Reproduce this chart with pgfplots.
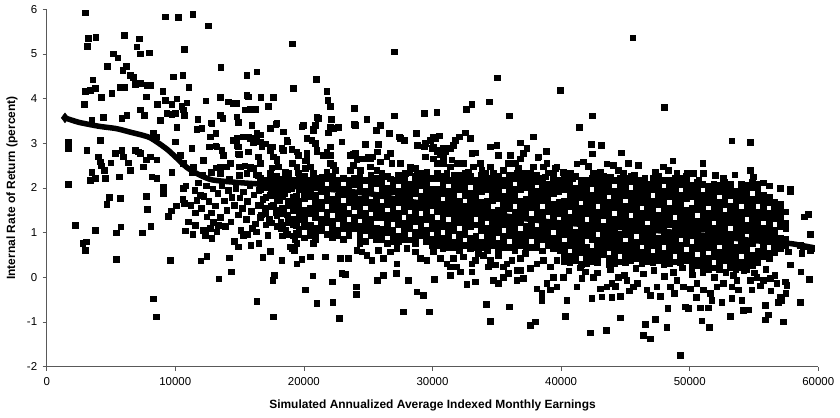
\documentclass[border=0pt]{standalone}
\usepackage{pgfplots}
\pgfplotsset{compat=1.18}
\usepackage{pgfplotstable}
\usepackage{fontspec}
\setmainfont{Liberation Sans}

\pgfplotstableread{
x y
2980 5.92
3240 5.35
3810 5.37
3130 5.18
6040 5.42
7200 5.34
7000 5.16
7260 5.01
7980 5.03
5180 5.01
5520 4.92
9200 5.83
10230 5.82
11350 5.89
12570 5.63
10700 5.11
19100 5.23
13530 4.71
4710 4.73
6170 4.73
5910 4.64
6480 4.53
6740 4.48
7260 4.34
6870 4.33
7780 4.30
8030 4.30
9850 4.49
10580 4.53
11040 4.25
15550 4.53
16330 4.60
19180 4.23
3580 4.42
2980 4.17
3370 4.19
3760 4.23
5700 4.25
6010 4.25
5050 4.12
4220 4.03
2920 3.88
7720 4.04
9020 4.16
9200 3.97
9720 3.88
10110 4.00
10500 3.83
10890 3.91
8600 3.87
7260 3.75
7570 3.63
5830 3.56
6220 3.63
4400 3.58
3500 3.52
8810 3.52
9330 3.67
9720 3.65
9980 3.67
10630 3.75
10680 3.63
12360 3.95
13480 4.03
14120 3.93
14510 3.90
14770 3.90
15550 4.08
15680 4.04
16640 4.03
17620 4.03
17230 3.83
15420 3.75
15810 3.76
16200 3.76
13480 3.63
13680 3.56
11740 3.54
12780 3.46
10110 3.35
12050 3.34
12700 3.15
13140 3.22
14770 3.60
14900 3.48
15940 3.39
17360 3.34
17800 3.43
18400 3.26
18660 3.07
18710 3.04
16640 3.19
16330 3.15
14770 3.11
15290 3.15
15680 3.15
14770 2.96
16070 3.01
16590 3.04
16720 2.92
17540 2.92
18270 2.89
18400 2.85
8290 3.24
8500 3.15
10000 3.04
11280 2.89
12620 2.92
13140 2.95
13610 2.85
13730 2.74
14900 2.92
14950 2.76
15680 2.81
16450 2.70
17620 2.70
17880 2.64
1680 3.04
1680 2.89
3110 2.85
4150 3.07
4010 2.70
4150 2.59
4220 2.50
4980 2.57
5310 2.78
5830 2.85
5960 2.70
6350 2.57
6870 2.85
7130 2.81
7260 2.78
6530 2.40
7520 2.48
7720 2.63
8030 2.70
8550 2.63
3500 2.36
3370 2.18
3760 2.22
4480 2.40
4530 2.22
1660 2.09
5620 2.25
6480 2.40
8160 2.25
8550 2.22
9720 2.36
9070 2.03
10370 2.74
10630 2.55
14980 2.48
14980 2.29
15550 2.33
16070 2.44
16450 2.29
17360 2.33
18010 2.48
18530 2.36
18790 2.33
12780 2.36
13480 2.33
14000 2.48
10100 3.37
11660 3.31
12830 3.45
14900 3.46
15940 3.41
17880 3.45
19960 3.41
20730 3.33
22030 3.37
23970 3.41
25920 3.41
28770 3.22
30070 3.15
12700 3.15
13220 2.92
14510 3.07
14900 2.77
15810 3.11
16330 3.22
16970 2.99
17360 2.85
18660 3.07
19440 2.81
20220 3.11
21000 2.85
21770 2.77
23840 2.77
24490 2.66
25140 2.66
26700 2.77
27470 3.11
29420 2.70
30450 2.85
10370 2.74
11400 2.48
12180 2.62
13480 2.48
14250 2.55
15030 2.48
15810 2.48
16590 2.55
17880 2.62
18660 2.33
19440 2.48
20220 2.62
20730 2.33
22030 2.55
23070 2.21
23580 2.40
24620 2.18
25660 2.40
26700 2.21
28250 2.48
29550 2.36
30840 2.55
2200 1.17
3760 1.06
4670 1.64
4870 1.80
5700 1.77
5390 1.00
5750 1.13
2800 0.77
3060 0.80
2980 0.61
5390 0.41
7720 1.82
7830 1.52
7440 1.00
8090 1.15
9070 1.89
9460 1.37
9670 1.49
10050 1.60
10580 1.75
10630 1.99
10680 1.66
9610 0.39
8290 -0.48
8500 -0.88
10780 1.04
11350 0.97
11530 1.17
11560 1.45
11670 1.73
11920 1.84
12180 1.06
12310 0.95
12830 0.87
12440 1.36
12960 1.24
13220 1.02
13350 1.17
11980 0.37
12440 0.48
13370 -0.03
14330 0.13
14200 0.44
14570 0.81
14880 0.69
15290 0.95
15600 0.97
15860 0.72
16280 1.02
16490 0.76
16800 0.45
17370 0.59
16330 -0.53
17700 0.05
17580 -0.06
17620 -0.88
18280 0.39
19050 0.65
19230 0.61
18200 1.10
19390 1.17
19390 1.00
10800 2.05
11200 1.62
11500 1.95
11800 2.12
12000 1.55
12200 1.82
12400 2.05
12600 1.70
12800 1.45
12900 1.98
13100 1.60
13300 1.88
13500 1.35
13600 2.05
13800 1.72
14000 1.50
14100 1.95
14300 1.25
14400 1.80
14600 1.62
14700 2.00
14900 1.40
15000 1.78
15200 1.55
15300 1.92
15500 1.30
15600 1.70
15800 2.05
15900 1.48
16100 1.85
16200 1.20
16400 1.62
16500 1.95
16700 1.40
16800 1.75
17000 1.55
17100 2.02
17300 1.30
17400 1.85
17600 1.62
17800 1.45
17900 1.95
18100 1.72
18200 1.25
18400 1.55
18500 1.88
18700 1.40
18900 1.70
19000 2.00
19200 1.50
19400 1.82
19500 1.30
11000 1.25
12700 1.10
13900 1.15
15100 1.05
16000 1.10
17200 0.95
18600 1.05
19300 0.85
11300 2.35
12100 2.30
13200 2.45
14200 2.20
15400 2.50
16300 2.30
17500 2.45
18300 2.20
19100 2.55
27030 5.05
20940 4.43
21770 4.16
21850 3.97
22030 3.83
23900 3.79
27030 3.62
29360 3.67
30330 3.70
32600 3.76
33050 3.88
34390 3.93
35040 4.47
35950 3.62
39910 4.19
37840 3.15
38830 2.83
21000 3.58
21120 3.56
20860 3.41
19950 3.41
19830 3.37
20730 3.30
22100 3.54
22290 3.34
22680 3.36
21900 3.24
23920 3.43
24880 3.54
25920 3.41
25610 3.30
26640 3.22
27420 3.15
27810 3.07
28690 3.22
28820 2.96
30200 3.11
30530 3.17
30060 2.92
29940 2.89
31750 3.07
32080 3.15
32530 3.24
32920 3.11
31620 2.96
31360 2.89
30970 2.81
30580 2.76
30840 2.70
34470 2.92
34990 2.96
35120 2.74
33050 2.78
33300 2.79
36030 2.74
36800 3.01
37320 2.89
37060 2.78
38180 2.69
38880 2.55
39660 2.48
36420 2.55
36800 2.66
36670 2.44
37060 2.33
37580 2.33
38100 2.22
19050 2.87
19570 2.74
20220 2.78
20600 3.07
20860 3.00
21000 2.81
21500 2.74
21770 2.81
22030 2.92
22030 2.74
20090 2.61
20090 2.44
20470 2.48
19570 2.34
19310 2.18
19950 2.14
21000 2.22
21380 2.25
21770 2.36
22290 2.51
22420 2.40
22940 3.04
23580 2.74
23970 2.78
23840 2.51
24100 2.63
24750 2.98
24360 2.40
24750 2.66
25000 2.70
25140 2.48
25350 2.70
25710 2.81
25790 2.98
25920 2.59
26440 2.70
26700 2.78
26830 2.55
27470 2.55
27860 2.33
29360 2.92
29420 3.00
29810 3.07
28640 2.44
28770 2.33
29290 2.33
29420 2.70
30060 2.66
30330 2.55
30330 2.81
30710 2.81
30840 2.89
31100 2.33
31360 2.48
31490 2.63
31880 2.55
32000 2.29
32400 2.55
32790 2.36
33170 2.48
33690 2.55
33820 2.40
34080 2.33
34470 2.48
34730 2.33
35510 2.40
35900 2.55
36030 2.29
36550 2.33
37840 2.48
38230 2.70
38620 2.48
38750 2.25
39400 2.33
39530 2.18
38230 2.14
37060 2.18
19440 0.31
19830 0.40
20680 0.04
20090 -0.28
21000 -0.58
22240 -0.55
22750 -0.92
22210 -0.10
22940 0.09
23200 0.07
24050 -0.21
24050 -0.38
25710 -0.06
26180 0.05
27160 0.09
28120 -0.06
27730 -0.77
28770 -0.32
29290 -0.40
29730 -0.77
30120 -0.04
31360 0.05
32140 0.13
32660 -0.15
33300 -0.10
33050 0.13
34160 -0.60
34470 -0.98
35970 -0.66
34730 -0.06
35120 -0.13
35510 0.01
35900 0.09
36550 -0.06
37060 -0.02
36800 0.16
37580 -1.07
37970 -0.99
38100 -0.25
38490 -0.36
38880 -0.13
38490 -0.51
39140 -0.28
39660 -0.21
39400 0.01
18920 0.69
19440 0.76
20730 0.76
20470 0.46
21640 0.46
22810 0.43
23450 0.43
24100 0.61
24500 0.57
24880 0.50
25270 0.39
25790 0.61
26180 0.43
26700 0.57
27220 0.31
27220 0.65
27990 0.65
28640 0.57
29030 0.43
29550 0.39
30060 0.57
30580 0.43
31100 0.31
31360 0.24
31620 0.43
31880 0.24
32400 0.46
33050 0.31
33300 0.39
33560 0.54
33950 0.50
34340 0.24
34470 0.39
34860 0.28
35120 0.50
35510 0.24
35770 0.31
36160 0.39
36550 0.16
36800 0.43
37190 0.54
37580 0.20
38100 0.31
38620 0.39
39140 0.24
39660 0.39
39910 0.61
45570 5.36
48000 3.81
42430 3.62
41390 3.36
53270 3.06
54690 3.02
42330 2.98
43100 2.96
42400 2.77
44660 2.79
45230 2.55
46000 2.51
48680 2.61
51010 2.55
41210 2.54
41730 2.59
42120 2.49
43550 2.54
44060 2.51
39530 2.44
40170 2.36
40690 2.33
42500 2.33
43030 2.36
43800 2.25
44450 2.40
44840 2.33
47950 2.48
48340 2.40
48990 2.33
49770 2.33
50280 2.33
51060 2.33
51970 2.29
54690 2.40
54950 2.25
55730 2.12
55210 2.10
57020 1.99
57800 1.97
57800 1.93
57020 1.52
59220 1.42
58890 1.36
59350 0.97
58580 0.72
58830 0.69
59350 0.61
58710 0.54
59490 0.65
57670 0.57
57800 0.28
58630 0.13
59280 -0.04
58580 -0.55
57410 -0.10
57540 -0.17
57460 -0.36
57100 -0.51
57020 -0.43
57280 -0.99
56110 -0.84
55850 -0.95
55850 -0.62
54550 -0.72
54170 -0.73
53130 -0.87
51520 -1.11
50930 -0.97
48210 -1.11
49250 -1.74
46910 -1.37
46390 -1.29
46520 -1.05
47300 -0.94
44580 -0.90
43490 -1.18
42250 -1.24
40300 -0.87
40430 -0.51
42380 -0.47
43160 -0.43
43930 -0.45
44580 -0.42
46910 -0.40
47690 -0.42
48290 -0.69
49630 -0.66
49890 -0.69
50800 -0.68
51450 -0.68
51710 -0.51
53270 -0.47
54040 -0.51
53780 -0.28
54820 -0.28
55470 -0.19
56890 -0.55
41210 -0.21
40170 0.01
41600 -0.02
41860 0.13
42500 0.01
43030 -0.25
43550 -0.21
43930 -0.13
44450 0.01
45100 -0.06
45610 -0.21
45930 -0.13
46650 -0.28
47430 -0.21
48470 -0.21
48990 -0.06
49500 -0.21
50020 -0.25
50540 -0.13
51060 -0.28
51580 -0.36
52100 -0.21
52610 -0.13
53270 -0.21
53650 -0.06
54690 -0.06
55210 0.01
55730 -0.06
56240 -0.02
56760 -0.13
40600 0.15
41500 0.22
42800 0.10
43800 0.18
44900 0.05
45800 0.20
46400 0.08
47200 0.16
48000 0.02
48700 0.12
49400 0.22
50200 0.06
51000 0.10
51900 0.00
52800 0.12
53400 0.05
54200 0.15
55000 0.10
55900 0.18
56600 0.05
45300 -0.30
50500 -0.45
52500 -0.55
48800 -0.35
44200 -0.20
56300 -0.30
40900 2.22
45700 2.28
46500 2.22
47300 2.35
49300 2.20
50700 2.18
52600 2.22
53500 2.30
56200 2.05
}\sparse

\pgfplotstableread{
x a b c d e f g h i j k l m n o p
16600 2.22 nan 1.97 nan nan 1.60 nan 1.35 nan nan nan nan nan nan nan nan
17030 2.18 2.05 nan 1.80 nan nan 1.43 nan 1.18 nan nan nan nan nan nan nan
17460 2.22 nan 1.97 1.84 nan 1.59 nan nan 1.22 nan nan nan nan nan nan nan
17890 2.26 2.14 nan 1.89 1.76 nan 1.51 1.39 nan 1.14 nan nan nan nan nan nan
18320 2.18 nan 1.93 1.81 nan 1.56 1.43 nan 1.18 nan 0.93 nan nan nan nan nan
18750 2.22 2.10 1.97 nan 1.72 1.60 nan 1.35 1.22 nan 0.97 nan nan nan nan nan
19180 2.18 2.05 nan 1.80 1.68 1.55 nan 1.30 1.18 nan 0.93 nan nan nan nan nan
19610 2.22 2.09 1.97 nan 1.72 1.59 1.47 1.34 nan 1.09 0.97 nan nan nan nan nan
20040 2.26 nan 2.01 1.89 1.76 nan 1.51 1.39 1.26 1.14 nan 0.89 nan nan nan nan
20470 2.18 2.06 1.93 1.81 nan 1.56 1.43 nan 1.18 1.06 0.93 nan nan nan nan nan
20900 2.22 2.10 nan 1.85 1.72 1.60 1.47 1.35 nan 1.10 0.97 0.85 nan nan nan nan
21330 2.18 2.05 1.93 nan 1.68 1.55 nan 1.30 1.18 1.05 nan nan nan nan nan nan
21760 2.22 nan 1.97 1.84 1.72 nan 1.47 1.34 1.22 nan 0.97 nan nan nan nan nan
22190 2.26 2.14 2.01 nan 1.76 1.64 1.51 nan 1.26 1.14 1.01 0.89 nan nan nan nan
22620 2.18 2.06 nan 1.81 1.68 1.56 1.43 1.31 nan 1.06 0.93 nan nan nan nan nan
23050 2.22 nan 1.97 1.85 nan 1.60 1.47 1.35 1.22 1.10 nan 0.85 nan nan nan nan
23480 2.18 2.05 1.93 1.80 1.68 nan 1.43 nan 1.18 1.05 0.93 nan nan nan nan nan
23910 2.22 2.09 nan 1.84 1.72 1.59 nan 1.34 1.22 1.09 nan nan nan nan nan nan
24340 2.26 2.14 2.01 nan 1.76 1.64 1.51 1.39 nan 1.14 1.01 0.89 0.76 nan nan nan
24770 2.18 nan 1.93 1.81 1.68 nan 1.43 1.31 1.18 1.06 nan 0.81 nan nan nan nan
25200 2.30 2.18 2.05 1.93 nan 1.68 1.55 nan 1.30 1.18 1.05 0.93 nan nan nan nan
25630 2.22 2.10 nan 1.85 1.72 1.60 1.47 1.35 nan 1.10 0.97 0.85 nan nan nan nan
26060 2.34 2.22 2.09 1.97 1.84 nan 1.59 1.47 1.34 nan 1.09 0.97 0.84 nan nan nan
26490 2.26 nan 2.01 1.89 1.76 1.64 nan 1.39 1.26 1.14 1.01 nan 0.76 nan nan nan
26920 2.18 2.06 1.93 nan 1.68 1.56 1.43 1.31 nan 1.06 0.93 0.81 nan nan nan nan
27350 2.30 2.18 nan 1.93 1.80 1.68 nan 1.43 1.30 1.18 nan 0.93 0.80 nan nan nan
27780 2.22 2.10 1.97 1.85 nan 1.60 1.47 nan 1.22 1.10 0.97 0.85 nan nan nan nan
28210 2.34 nan 2.09 1.97 1.84 1.72 1.59 nan 1.34 1.22 1.09 nan 0.84 nan nan nan
28640 2.26 2.14 2.01 1.89 nan 1.64 1.51 1.39 1.26 nan 1.01 0.89 0.76 nan nan nan
29070 2.18 2.06 nan 1.81 1.68 1.56 nan 1.31 1.18 1.06 0.93 nan nan nan nan nan
29500 2.30 2.18 2.05 1.93 1.80 nan 1.55 1.43 1.30 nan 1.05 0.93 0.80 nan nan nan
29930 2.22 nan 1.97 1.85 1.72 1.60 nan 1.35 1.22 1.10 nan 0.85 0.72 nan nan nan
30360 2.34 2.22 nan 1.97 1.84 1.72 1.59 1.47 nan 1.22 1.09 0.97 0.84 0.72 nan nan
30790 2.26 2.14 2.01 1.89 nan 1.64 1.51 1.39 1.26 1.14 nan 0.89 0.76 0.64 nan nan
31220 2.18 nan 1.93 1.81 1.68 1.56 1.43 nan 1.18 1.06 0.93 0.81 0.68 nan nan nan
31650 2.30 2.18 2.05 1.93 1.80 1.68 nan 1.43 1.30 1.18 1.05 nan 0.80 0.68 nan nan
32080 2.22 2.10 1.97 nan 1.72 1.60 1.47 1.35 1.22 nan 0.97 0.85 0.72 0.60 nan nan
32510 2.34 2.22 2.09 1.97 1.84 nan 1.59 1.47 1.34 1.22 1.09 0.97 nan 0.72 nan nan
32940 2.26 2.14 nan 1.89 1.76 1.64 1.51 1.39 1.26 1.14 nan 0.89 0.76 0.64 nan nan
33370 2.18 2.06 1.93 1.81 1.68 1.56 1.43 nan 1.18 nan 0.93 0.81 0.68 nan nan nan
33800 2.30 2.18 2.05 1.93 nan 1.68 1.55 1.43 1.30 1.18 1.05 nan 0.80 0.68 nan nan
34230 2.22 2.10 1.97 nan 1.72 1.60 1.47 1.35 nan 1.10 0.97 0.85 0.72 0.60 nan nan
34660 nan 2.22 2.09 1.97 1.84 1.72 nan 1.47 1.34 1.22 1.09 0.97 0.84 0.72 nan nan
35090 2.26 2.14 2.01 1.89 1.76 nan 1.51 1.39 1.26 1.14 1.01 nan 0.76 0.64 nan nan
35520 2.18 2.06 nan 1.81 1.68 1.56 1.43 1.31 1.18 nan 0.93 0.81 0.68 nan nan nan
35950 2.30 2.18 2.05 1.93 1.80 1.68 1.55 nan 1.30 1.18 1.05 0.93 nan 0.68 nan nan
36380 2.22 nan 1.97 1.85 1.72 nan 1.47 1.35 1.22 1.10 0.97 0.85 0.72 0.60 nan nan
36810 2.34 2.22 2.09 1.97 nan 1.72 1.59 1.47 1.34 1.22 nan 0.97 0.84 0.72 nan nan
37240 2.26 2.14 2.01 nan 1.76 1.64 1.51 1.39 nan 1.14 1.01 0.89 0.76 0.64 nan nan
37670 2.18 2.06 1.93 1.81 1.68 1.56 nan 1.31 1.18 1.06 0.93 nan 0.68 nan nan nan
38100 2.30 2.18 nan 1.93 1.80 1.68 1.55 1.43 1.30 nan 1.05 0.93 0.80 0.68 nan nan
38530 2.22 2.10 1.97 1.85 1.72 nan 1.47 1.35 1.22 1.10 0.97 0.85 nan 0.60 nan nan
38960 2.34 nan 2.09 1.97 1.84 1.72 1.59 1.47 nan 1.22 1.09 0.97 0.84 0.72 nan nan
39390 2.26 2.14 2.01 1.89 nan 1.64 1.51 1.39 1.26 1.14 nan 0.89 0.76 0.64 nan nan
39820 2.18 2.06 1.93 nan 1.68 1.56 1.43 nan 1.18 1.06 0.93 0.81 0.68 nan nan nan
40250 2.22 2.10 1.97 nan 1.72 1.60 1.47 1.35 1.22 1.10 0.97 nan 0.72 0.60 0.47 0.35
40680 2.22 2.09 1.97 1.84 1.72 1.59 nan 1.34 1.22 1.09 0.97 0.84 0.72 nan 0.47 0.34
41110 2.26 nan 2.01 1.89 1.76 1.64 1.51 1.39 1.26 nan 1.01 0.89 0.76 0.64 0.51 0.39
41540 2.18 2.05 1.93 1.80 nan 1.55 1.43 1.30 1.18 1.05 0.93 0.80 0.68 0.55 nan 0.30
41970 2.18 2.06 1.93 1.81 1.68 1.56 1.43 nan 1.18 1.06 0.93 nan 0.68 0.56 0.43 0.31
42400 2.22 2.10 nan 1.85 1.72 1.60 1.47 1.35 1.22 1.10 0.97 0.85 nan 0.60 0.47 0.35
42830 2.22 2.09 1.97 1.84 1.72 nan 1.47 1.34 1.22 1.09 nan 0.84 0.72 0.59 0.47 0.34
43260 2.26 2.14 2.01 1.89 1.76 1.64 1.51 1.39 nan 1.14 1.01 0.89 0.76 0.64 0.51 nan
43690 2.18 2.05 1.93 nan 1.68 1.55 1.43 1.30 1.18 1.05 0.93 0.80 0.68 nan 0.43 0.30
44120 2.18 nan 1.93 1.81 1.68 1.56 nan 1.31 1.18 1.06 0.93 0.81 0.68 0.56 0.43 0.31
44550 2.22 2.10 1.97 1.85 1.72 1.60 1.47 1.35 1.22 nan 0.97 0.85 0.72 0.60 nan 0.35
44980 2.22 2.09 1.97 1.84 nan 1.59 1.47 1.34 1.22 1.09 0.97 nan 0.72 0.59 0.47 0.34
45410 2.26 2.14 nan 1.89 1.76 1.64 1.51 nan 1.26 1.14 1.01 0.89 0.76 0.64 0.51 0.39
45840 2.18 2.05 1.93 1.80 1.68 1.55 1.43 1.30 1.18 1.05 nan 0.80 0.68 0.55 0.43 nan
46270 2.18 2.06 1.93 1.81 1.68 nan 1.43 1.31 1.18 1.06 0.93 0.81 nan 0.56 0.43 0.31
46700 nan 2.10 1.97 1.85 1.72 1.60 1.47 1.35 nan 1.10 0.97 0.85 0.72 0.60 0.47 0.35
47130 2.22 2.09 1.97 nan 1.72 1.59 1.47 1.34 1.22 1.09 0.97 0.84 0.72 nan 0.47 0.34
47560 2.26 2.14 2.01 1.89 1.76 1.64 nan 1.39 1.26 1.14 nan 0.89 0.76 0.64 0.51 0.39
47990 2.18 nan 1.93 1.80 1.68 1.55 1.43 1.30 1.18 1.05 0.93 0.80 nan 0.55 0.43 0.30
48420 2.18 2.06 1.93 1.81 nan 1.56 1.43 1.31 1.18 nan 0.93 0.81 0.68 0.56 0.43 0.31
48850 2.22 2.10 1.97 1.85 1.72 1.60 1.47 nan 1.22 1.10 0.97 0.85 0.72 0.60 nan 0.35
49280 2.22 2.09 nan 1.84 1.72 1.59 1.47 1.34 1.22 1.09 0.97 nan 0.72 0.59 0.47 0.34
49710 2.26 2.14 2.01 1.89 1.76 nan 1.51 1.39 1.26 1.14 1.01 0.89 0.76 nan 0.51 0.39
50140 2.06 1.93 1.81 nan 1.56 1.43 1.31 1.18 1.06 0.93 nan 0.68 0.56 0.43 0.31 0.18
50570 2.14 2.01 1.89 1.76 1.64 1.51 nan 1.26 1.14 1.01 0.89 0.76 0.64 nan 0.39 0.26
51000 2.09 nan 1.84 1.72 1.59 1.47 1.34 1.22 1.09 nan 0.84 0.72 0.59 0.47 0.34 0.22
51430 2.05 1.93 1.80 1.68 nan 1.43 1.30 1.18 1.05 0.93 0.80 0.68 nan 0.43 0.30 0.18
51860 2.10 1.97 1.85 1.72 1.60 1.47 1.35 nan 1.10 0.97 0.85 0.72 0.60 0.47 nan 0.22
52290 2.06 1.93 nan 1.68 1.56 1.43 1.31 1.18 1.06 0.93 0.81 nan 0.56 0.43 0.31 0.18
52720 2.14 2.01 1.89 1.76 1.64 nan 1.39 1.26 1.14 1.01 0.89 0.76 0.64 0.51 0.39 nan
53150 2.09 1.97 1.84 nan 1.59 1.47 1.34 1.22 nan 0.97 0.84 0.72 0.59 0.47 0.34 0.22
53580 nan 1.93 1.80 1.68 1.55 1.43 1.30 1.18 1.05 0.93 nan 0.68 0.55 0.43 0.30 0.18
54010 2.10 1.97 1.85 1.72 nan 1.47 1.35 1.22 1.10 0.97 0.85 0.72 0.60 nan 0.35 0.22
54440 2.06 1.93 1.81 1.68 1.56 1.43 nan 1.18 1.06 nan 0.81 0.68 0.56 0.43 0.31 0.18
54870 2.14 2.01 nan 1.76 1.64 1.51 1.39 1.26 1.14 1.01 0.89 0.76 nan 0.51 0.39 0.26
55300 1.97 1.84 1.72 nan 1.47 1.34 1.22 1.09 0.97 0.84 nan 0.59 0.47 0.34 nan nan
55730 1.85 1.72 1.60 1.47 1.35 nan 1.10 0.97 0.85 0.72 0.60 0.47 nan nan nan nan
56160 1.80 1.68 nan 1.43 1.30 1.18 1.05 0.93 0.80 nan 0.55 0.43 nan nan nan nan
56590 1.68 1.56 1.43 1.31 nan 1.06 0.93 0.81 0.68 0.56 nan nan nan nan nan nan
57020 1.64 nan 1.39 1.26 1.14 nan 0.89 0.76 0.64 nan nan nan nan nan nan nan
57450 1.47 nan 1.22 1.10 nan 0.85 0.72 nan nan nan nan nan nan nan nan nan
}\dense

\pgfplotstableread{
x y
1420 3.57
2500 3.47
4100 3.38
5400 3.33
6500 3.25
8000 3.13
9300 2.88
10000 2.70
10900 2.46
11900 2.29
12900 2.18
15000 2.12
17600 2.07
19000 2.04
22000 1.97
25400 1.86
27500 1.73
29500 1.65
31400 1.57
33500 1.47
35300 1.39
37500 1.30
39500 1.23
41000 1.20
43000 1.15
45000 1.11
47000 1.06
49000 1.00
50800 0.95
52500 0.91
54700 0.83
56500 0.79
58000 0.75
59700 0.66
}\trend

\begin{document}
\begin{tikzpicture}
\begin{axis}[
  at={(0,0)}, anchor=south west,
  scale only axis, width=771.6bp, height=357.4bp,
  xmin=0, xmax=60000, ymin=-2, ymax=6,
  axis x line*=bottom, axis y line*=left,
  axis line style={black!65, line width=0.9bp},
  xtick={0,10000,20000,30000,40000,50000,60000},
  ytick={-2,-1,0,1,2,3,4,5,6},
  scaled x ticks=false,
  /pgf/number format/1000 sep={},
  /pgf/number format/assume math mode=true,
  tick align=outside, major tick length=4bp,
  tick style={black!65, line width=0.8bp},
  xticklabel style={font=\fontsize{11.5}{13}\selectfont, yshift=-3bp},
  yticklabel style={font=\fontsize{11.5}{13}\selectfont, xshift=-2bp},
  xlabel={Simulated Annualized Average Indexed Monthly Earnings},
  ylabel={Internal Rate of Return (percent)},
  every axis x label/.style={at={(axis description cs:0.5,0)}, yshift=-38.5bp, anchor=center, font=\bfseries\fontsize{12}{14}\selectfont},
  every axis y label/.style={at={(axis description cs:0,0.5)}, xshift=-34.7bp, rotate=90, anchor=center, font=\bfseries\fontsize{12}{14}\selectfont},
]
\addplot[only marks, mark=square*, mark size=2.8bp, black] table[x=x,y=y]{\sparse};
\pgfplotsinvokeforeach{a,b,c,d,e,f,g,h,i,j,k,l,m,n,o,p}{
  \addplot[only marks, mark=square*, mark size=2.8bp, black] table[x=x,y=#1]{\dense};
}
\addplot[black, line width=5.5bp, smooth, tension=0.4] table[x=x,y=y]{\trend};
\addplot[only marks, mark=diamond*, mark size=5bp, black] coordinates {(1420,3.57)};
\end{axis}
\pgfresetboundingbox
\useasboundingbox (-46.7bp,-51.3bp) rectangle (793.3bp,366.7bp);
\end{tikzpicture}
\end{document}
